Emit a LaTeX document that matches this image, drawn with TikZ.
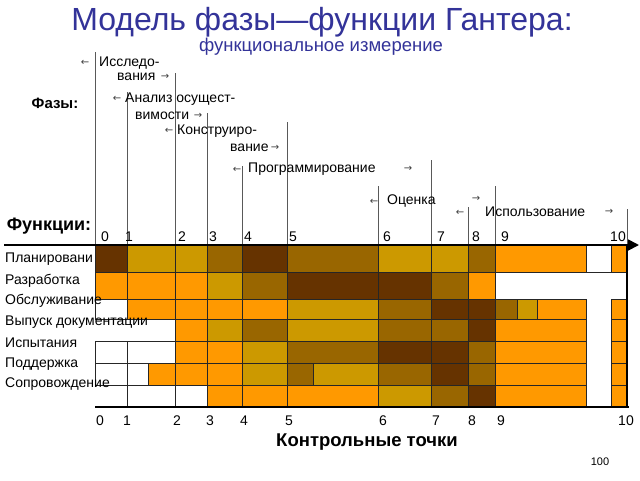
\documentclass[tikz,border=0pt]{standalone}
\usepackage{fontspec}
\setmainfont{Liberation Sans}
\newfontfamily\arr{DejaVu Sans}
\usetikzlibrary{arrows.meta}
\definecolor{dk}{HTML}{663300}
\definecolor{md}{HTML}{996600}
\definecolor{gd}{HTML}{CC9900}
\definecolor{og}{HTML}{FF9900}
\definecolor{ttl}{HTML}{333399}
\newcommand\gridrow[3]{\foreach \a/\b/\c in {#3} \draw[cellbox,fill=\c] (\a,#1) rectangle (\b,#2);}
\begin{document}
\begin{tikzpicture}[x=1pt,y=-1pt,
  cellbox/.style={draw=black!85,line width=0.5pt},
  phline/.style={draw=black!65,line width=0.7pt},
  axis/.style={draw=black,line width=1.8pt},
  lbl/.style={font=\fontsize{14}{16}\selectfont,anchor=west,inner sep=0pt},
  ph/.style={font=\fontsize{14}{16}\selectfont,anchor=west,inner sep=0pt},
  ar/.style={font=\arr\fontsize{10}{12}\selectfont,inner sep=0pt,text=black!75},
  num/.style={font=\fontsize{14}{16}\selectfont,inner sep=0pt},
]
\useasboundingbox[fill=white] (0,0) rectangle (640,480);

% title
\node[text=ttl,font=\fontsize{32}{36}\selectfont,inner sep=0pt] (title) at (322,22) {Модель фазы—функции Гантера:};
\node[text=ttl,font=\fontsize{18.5}{20}\selectfont,inner sep=0pt] (sub) at (321,47) {функциональное измерение};

% grid cells
\gridrow{245}{272}{95/127/dk,127/175/gd,175/207/gd,207/242/md,242/287/dk,287/378/md,378/431/gd,431/468/gd,468/495/md,495/586/og,586/611/white,611/627/og}
\gridrow{272}{299}{95/127/og,127/175/og,175/207/og,207/242/gd,242/287/md,287/378/dk,378/431/dk,431/468/md,468/495/og}
\gridrow{299}{319}{95/127/white,127/175/og,175/207/og,207/242/og,242/287/og,287/378/gd,378/431/md,431/468/dk,468/495/dk,495/517/md,517/537/gd,537/586/og,611/627/og}
\gridrow{319}{341}{175/207/og,207/242/gd,242/287/md,287/378/gd,378/431/md,431/468/md,468/495/dk,495/586/og,611/627/og}
\gridrow{341}{363}{95/127/white,127/175/white,175/207/og,207/242/og,242/287/gd,287/378/md,378/431/dk,431/468/dk,468/495/md,495/586/og,611/627/og}
\gridrow{363}{385}{95/127/white,127/148/white,148/175/og,175/207/og,207/242/og,242/287/gd,287/313/md,313/378/gd,378/431/md,431/468/dk,468/495/md,495/586/og,611/627/og}
\gridrow{385}{407}{127/175/white,175/207/white,207/242/og,242/287/og,287/378/og,378/431/gd,431/468/md,468/495/dk,495/586/og,611/627/og}

% phase lines
\coordinate (p0) at (95,52);   \coordinate (q0) at (95,245);
\coordinate (p1) at (127,92);  \coordinate (q1) at (127,245);
\coordinate (p2) at (175,73);  \coordinate (q2) at (175,245);
\coordinate (p3) at (207,113); \coordinate (q3) at (207,245);
\coordinate (p4) at (242,166); \coordinate (q4) at (242,245);
\coordinate (p5) at (287,122); \coordinate (q5) at (287,245);
\coordinate (p6) at (378,186); \coordinate (q6) at (378,245);
\coordinate (p7) at (431,160); \coordinate (q7) at (431,245);
\coordinate (p8) at (468,207); \coordinate (q8) at (468,245);
\coordinate (p9) at (495,186); \coordinate (q9) at (495,245);
\coordinate (p10) at (627,209); \coordinate (q10) at (627,245);
\foreach \i in {0,...,10} \draw[phline] (p\i) -- (q\i);

% axes
\coordinate (axL) at (4,245);
\coordinate (axR) at (639,245);
\coordinate (brT) at (627,245);
\coordinate (brB) at (627,407);
\coordinate (bbL) at (95,407);
\coordinate (bbR) at (629,407);
\draw[axis,-{Triangle[length=11pt,width=11pt]}] (axL) -- (axR);
\draw[axis] (brT) -- (brB);
\draw[axis,line width=1.6pt] (bbL) -- (bbR);

% phase labels
\node[ar] (a1) at (85,63) {←};
\node[ph] (ph1a) at (99,63) {Исследо-};
\node[ph] (ph1b) at (117,77) {вания};
\node[ar] (a2) at (165,77) {→};
\node[ar] (a3) at (117,99) {←};
\node[ph] (ph2a) at (125,99) {Анализ осущест-};
\node[ph] (ph2b) at (135,116) {вимости};
\node[ar] (a4) at (198,116) {→};
\node[ar] (a5) at (169,131) {←};
\node[ph] (ph3a) at (177,131) {Конструиро-};
\node[ph] (ph3b) at (230,148) {вание};
\node[ar] (a6) at (275,148) {→};
\node[ar] (a7) at (237,170) {←};
\node[ph] (ph4) at (248,169) {Программирование};
\node[ar] (a8) at (408,169) {→};
\node[ar] (a9) at (374,202) {←};
\node[ph] (ph5) at (387,201) {Оценка};
\node[ar] (a10) at (476,199) {→};
\node[ar] (a11) at (460,213) {←};
\node[ph] (ph6) at (485,212) {Использование};
\node[ar] (a12) at (609,212) {→};

% side headings
\node[font=\bfseries\fontsize{15}{17}\selectfont,inner sep=0pt] (faz) at (55,103) {Фазы:};
\node[font=\bfseries\fontsize{18}{20}\selectfont,inner sep=0pt] (fun) at (49,226) {Функции:};

% top numbers
\foreach \n/\x in {0/105,1/129,2/182,3/213,4/248,5/293,6/387,7/441,8/476,9/505,10/618}
  \node[num] (t\n) at (\x,237) {\n};
% bottom numbers
\foreach \n/\x in {0/100,1/127,2/177,3/210,4/244,5/289,6/383,7/436,8/472,9/501,10/626}
  \node[num] (b\n) at (\x,421) {\n};

% row labels
\node[lbl] (r1) at (5,259) {Планировани};
\node[lbl] (r2) at (5,281) {Разработка};
\node[lbl] (r3) at (5,301) {Обслуживание};
\node[lbl] (r4) at (5,322) {Выпуск документации};
\node[lbl] (r5) at (5,343) {Испытания};
\node[lbl] (r6) at (5,364) {Поддержка};
\node[lbl] (r7) at (5,384) {Сопровождение};

% bottom
\node[font=\bfseries\fontsize{18.5}{20}\selectfont,inner sep=0pt] (kt) at (367,442) {Контрольные точки};
\node[font=\fontsize{11}{13}\selectfont,inner sep=0pt] (pg) at (600,462) {100};
\end{tikzpicture}
\end{document}
